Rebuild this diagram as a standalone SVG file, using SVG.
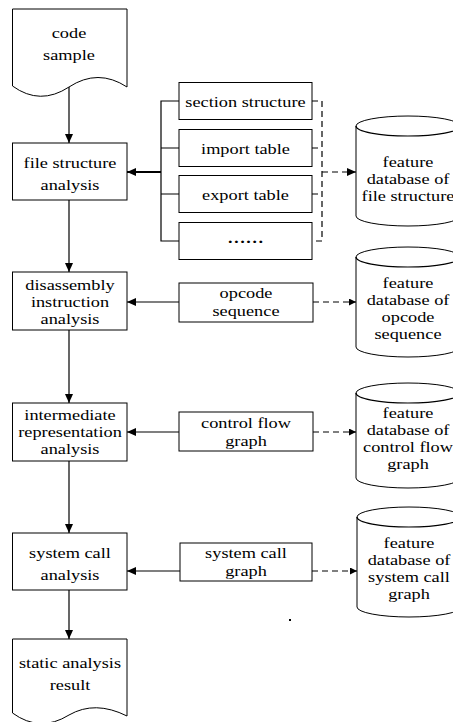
<svg xmlns="http://www.w3.org/2000/svg" width="453" height="722" viewBox="0 0 453 722">
<defs>
<marker id="arr" markerUnits="userSpaceOnUse" markerWidth="9" markerHeight="8" viewBox="0 0 9 8" refX="9" refY="4" orient="auto">
<path d="M0,0 L9,4 L0,8 Z" fill="#000"/>
</marker>
<marker id="arrs" markerUnits="userSpaceOnUse" markerWidth="7" markerHeight="7" viewBox="0 0 7 7" refX="7" refY="3.5" orient="auto">
<path d="M0,0 L7,3.5 L0,7 Z" fill="#000"/>
</marker>
</defs>
<style>
.box{fill:#fff;stroke:#000;stroke-width:1}
.t{font-family:"Liberation Serif","Times New Roman",Times,"Nimbus Roman","Nimbus Roman No9 L",FreeSerif,"Noto Serif","DejaVu Serif",serif;font-size:15px;fill:#000;text-anchor:middle}
.ln{fill:none;stroke:#000;stroke-width:1.2}
.dash{fill:none;stroke:#000;stroke-width:1.2;stroke-dasharray:6 4}
</style>
<rect width="453" height="722" fill="#fff"/>

<g id="connectors">
<line class="ln" x1="69" y1="87" x2="69" y2="143" marker-end="url(#arr)"/>
<line class="ln" x1="69" y1="200" x2="69" y2="272" marker-end="url(#arr)"/>
<line class="ln" x1="69" y1="330" x2="69" y2="403" marker-end="url(#arr)"/>
<line class="ln" x1="69" y1="461" x2="69" y2="533" marker-end="url(#arr)"/>
<line class="ln" x1="69" y1="590" x2="69" y2="639" marker-end="url(#arr)"/>
<path class="ln" d="M179,101 H161 V241 H179 M161,148 H179 M161,194 H179"/>
<line x1="161" y1="172" x2="127" y2="172" stroke="#000" stroke-width="2" marker-end="url(#arr)"/>
<line class="ln" x1="179" y1="302" x2="127" y2="302" marker-end="url(#arr)"/>
<line class="ln" x1="179" y1="432" x2="127" y2="432" marker-end="url(#arr)"/>
<line class="ln" x1="180" y1="571" x2="127" y2="571" marker-end="url(#arr)"/>
<path class="dash" d="M312,101 H322 V241 H312 M312,148 H322 M312,194 H322"/>
<line class="dash" x1="322" y1="172" x2="356" y2="172" stroke-width="1.6" marker-end="url(#arr)"/>
<line class="dash" x1="313" y1="302" x2="356" y2="302" marker-end="url(#arrs)"/>
<line class="dash" x1="313" y1="432" x2="356" y2="432" marker-end="url(#arrs)"/>
<line class="dash" x1="312" y1="571" x2="357" y2="571" marker-end="url(#arrs)"/>
</g>

<g id="code-sample">
<path class="box" d="M12.5,9 H127 V87 Q98,68 69,87 Q40,106 12.5,86 Z"/>
<text class="t" transform="matrix(1.22,0,0,1,69,38)">code</text>
<text class="t" transform="matrix(1.22,0,0,1,69,60)">sample</text>
</g>

<g id="file-structure-analysis">
<rect class="box" x="12.5" y="143" width="114.5" height="57"/>
<text class="t" transform="matrix(1.22,0,0,1,70,168)">file structure</text>
<text class="t" transform="matrix(1.22,0,0,1,70,190)">analysis</text>
</g>

<g id="section-structure">
<rect class="box" x="179" y="82.5" width="133" height="37"/>
<text class="t" transform="matrix(1.22,0,0,1,245.5,107)">section structure</text>
</g>
<g id="import-table">
<rect class="box" x="179" y="129.5" width="133" height="37"/>
<text class="t" transform="matrix(1.22,0,0,1,245.5,154)">import table</text>
</g>
<g id="export-table">
<rect class="box" x="179" y="175.5" width="133" height="37"/>
<text class="t" transform="matrix(1.22,0,0,1,245.5,200)">export table</text>
</g>
<g id="more">
<rect class="box" x="179" y="222.5" width="133" height="37"/>
<text class="t" transform="matrix(1.22,0,0,1,245.5,243)" font-weight="bold">……</text>
</g>

<g id="db-file-structure">
<path class="box" d="M356,126 A52,10 0 0 1 460,126 V216 A52,10 0 0 1 356,216 Z"/>
<path class="ln" stroke-width="1" d="M356,126 A52,10 0 0 0 460,126"/>
<text class="t" transform="matrix(1.22,0,0,1,408,167)">feature</text>
<text class="t" transform="matrix(1.22,0,0,1,408,184)">database of</text>
<text class="t" transform="matrix(1.22,0,0,1,408,201)">file structure</text>
</g>

<g id="disassembly-instruction-analysis">
<rect class="box" x="12.5" y="272" width="114.5" height="58"/>
<text class="t" transform="matrix(1.22,0,0,1,70,290)">disassembly</text>
<text class="t" transform="matrix(1.22,0,0,1,70,307)">instruction</text>
<text class="t" transform="matrix(1.22,0,0,1,70,324)">analysis</text>
</g>

<g id="opcode-sequence">
<rect class="box" x="179" y="283" width="134" height="39"/>
<text class="t" transform="matrix(1.22,0,0,1,246,298)">opcode</text>
<text class="t" transform="matrix(1.22,0,0,1,246,316)">sequence</text>
</g>

<g id="db-opcode-sequence">
<path class="box" d="M356,257 A52,10 0 0 1 460,257 V347 A52,10 0 0 1 356,347 Z"/>
<path class="ln" stroke-width="1" d="M356,257 A52,10 0 0 0 460,257"/>
<text class="t" transform="matrix(1.22,0,0,1,408,288)">feature</text>
<text class="t" transform="matrix(1.22,0,0,1,408,305)">database of</text>
<text class="t" transform="matrix(1.22,0,0,1,408,322)">opcode</text>
<text class="t" transform="matrix(1.22,0,0,1,408,339)">sequence</text>
</g>

<g id="intermediate-representation-analysis">
<rect class="box" x="12.5" y="403" width="114.5" height="58"/>
<text class="t" transform="matrix(1.22,0,0,1,70,420)">intermediate</text>
<text class="t" transform="matrix(1.22,0,0,1,70,437)">representation</text>
<text class="t" transform="matrix(1.22,0,0,1,70,454)">analysis</text>
</g>

<g id="control-flow-graph">
<rect class="box" x="179" y="412" width="134" height="39"/>
<text class="t" transform="matrix(1.22,0,0,1,246,428)">control flow</text>
<text class="t" transform="matrix(1.22,0,0,1,246,446)">graph</text>
</g>

<g id="db-control-flow-graph">
<path class="box" d="M356,393 A52,10 0 0 1 460,393 V478 A52,10 0 0 1 356,478 Z"/>
<path class="ln" stroke-width="1" d="M356,393 A52,10 0 0 0 460,393"/>
<text class="t" transform="matrix(1.22,0,0,1,408,418)">feature</text>
<text class="t" transform="matrix(1.22,0,0,1,408,435)">database of</text>
<text class="t" transform="matrix(1.22,0,0,1,408,452)">control flow</text>
<text class="t" transform="matrix(1.22,0,0,1,408,469)">graph</text>
</g>

<g id="system-call-analysis">
<rect class="box" x="12.5" y="533" width="114.5" height="57"/>
<text class="t" transform="matrix(1.22,0,0,1,70,558)">system call</text>
<text class="t" transform="matrix(1.22,0,0,1,70,580)">analysis</text>
</g>

<g id="system-call-graph">
<rect class="box" x="180" y="543" width="132" height="38"/>
<text class="t" transform="matrix(1.22,0,0,1,246,558)">system call</text>
<text class="t" transform="matrix(1.22,0,0,1,246,576)">graph</text>
</g>

<g id="db-system-call-graph">
<path class="box" d="M357,517 A52,10 0 0 1 461,517 V607 A52,10 0 0 1 357,607 Z"/>
<path class="ln" stroke-width="1" d="M357,517 A52,10 0 0 0 461,517"/>
<text class="t" transform="matrix(1.22,0,0,1,409,548)">feature</text>
<text class="t" transform="matrix(1.22,0,0,1,409,565)">database of</text>
<text class="t" transform="matrix(1.22,0,0,1,409,582)">system call</text>
<text class="t" transform="matrix(1.22,0,0,1,409,599)">graph</text>
</g>

<g id="static-analysis-result">
<path class="box" d="M12.5,639 H127 V716 Q95,700 69,715 Q40,733 12.5,713 Z"/>
<text class="t" transform="matrix(1.22,0,0,1,70,668)">static analysis</text>
<text class="t" transform="matrix(1.22,0,0,1,70,690)">result</text>
</g>

<rect x="289" y="619" width="2" height="2" fill="#000"/>
</svg>
